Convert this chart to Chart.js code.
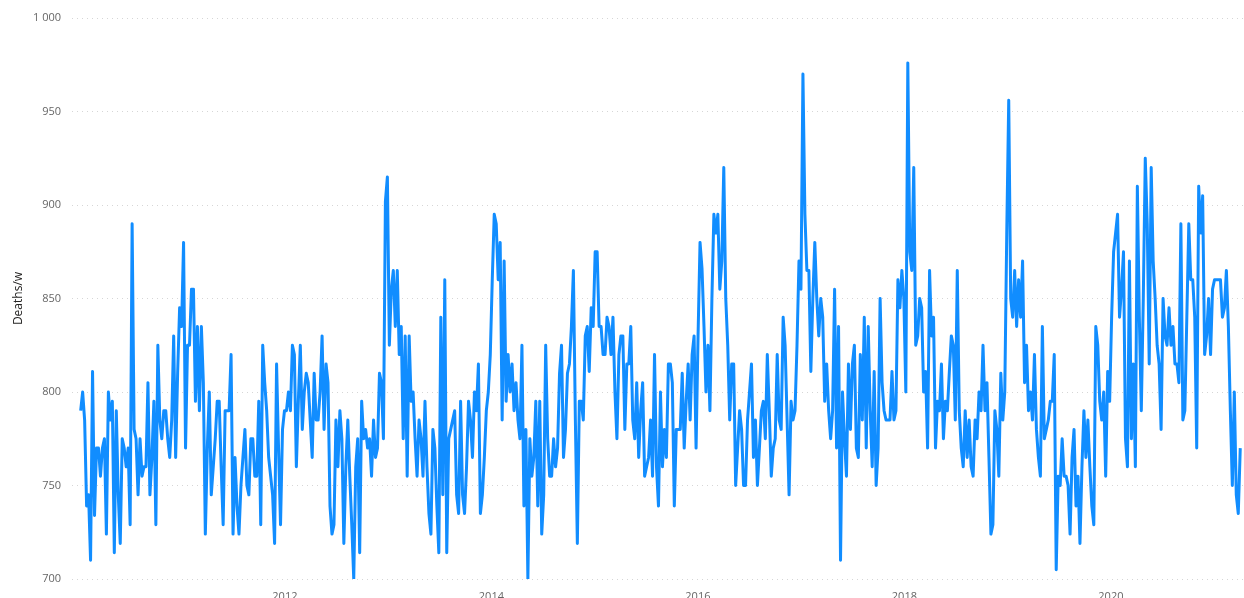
<!DOCTYPE html>
<html><head><meta charset="utf-8">
<script src="https://cdn.jsdelivr.net/npm/chart.js@4"></script>
<style>html,body{margin:0;padding:0;background:#fff}#wrap{width:1244px;height:598px;position:relative}</style>
</head><body><div id="wrap"><canvas id="c"></canvas></div>
<script>
// Weekly deaths, consecutive weeks starting at firstWeek (decimal year)
const firstWeek = 2010.022;
const weekStep = 7 / 365.25;

const deaths2010 = [790,800,785,739,745,710,811,734,770,770,755,770,775,724,800,785,795,714,790,745,719,775,770,760,770,729,890,780,775,745,775,755,760,760,805,745,765,795,729,825,785,775,790,790,775,765,785,830,765,810,845,835,880];
const deaths2011 = [770,825,825,855,855,795,835,790,835,805,724,770,800,745,760,775,795,795,760,729,790,790,790,820,724,765,739,724,750,765,780,750,745,775,775,755,755,795,729,825,805,790,765,755,745,719,815,770,729,780,790,790,800];
const deaths2012 = [790,825,820,760,795,825,780,800,810,805,785,765,810,785,785,800,830,780,815,805,739,724,729,785,760,790,775,719,760,785,755,729,700,760,775,714,795,775,780,770,775,755,785,765,770,810,805,775,902,915,825,855,865,835];
const deaths2013 = [865,820,835,775,830,755,830,795,800,775,755,785,775,755,795,760,735,724,780,770,739,714,840,745,860,714,775,780,785,790,745,735,795,745,735,760,795,785,765,800,790,815,735,745,765,790,800,820,860,895,890,860,880,785];
const deaths2014 = [870,795,820,800,815,790,805,785,775,825,739,780,700,775,755,765,795,739,795,724,745,825,775,755,755,775,760,770,810,825,765,780,810,815,835,865,785,719,795,795,785,830,835,811,845,835,875,875,835,835,820,820,840];
const deaths2015 = [835,820,840,800,775,820,830,830,780,815,815,835,785,775,805,765,790,805,755,760,765,785,755,820,760,739,800,760,780,765,815,815,805,739,780,780,780,810,770,795,815,785,820,830,770,830,880,866,835,800,825,790,850,895];
const deaths2016 = [885,895,855,870,920,850,825,785,815,815,750,770,790,780,750,750,785,800,815,765,785,750,770,790,795,775,820,790,755,770,775,820,785,780,840,825,785,745,795,785,790,825,870,855,970,895,865,865,811,850,880,850,830];
const deaths2017 = [850,840,795,815,790,775,790,855,770,835,710,800,775,755,815,780,815,825,770,765,820,785,840,770,835,790,760,811,750,770,850,805,790,785,785,785,811,785,790,860,845,865,850,800,976,875,865,920,825,830,850,845,800];
const deaths2018 = [811,770,865,830,840,770,795,790,815,775,795,790,811,830,825,785,865,790,770,760,790,765,785,760,755,785,775,800,790,825,790,805,765,724,729,790,780,755,810,785,800,885,956,850,840,865,835,860,840,870,805,825,790];
const deaths2019 = [800,785,820,780,765,755,835,775,780,785,795,795,820,705,755,750,775,755,755,750,724,765,780,739,755,719,760,790,765,785,760,739,729,835,825,795,785,800,755,811,795,840,875,885,895,840,855,875,775,760,870,775,815,760];
const deaths2020 = [910,840,790,850,925,890,815,920,870,850,825,815,780,850,830,825,845,825,835,815,815,805,890,785,790,840,890,860,860,840,770,910,885,905,820,830,850,820,855,860,860,860,860,840,845,865,835,790,750,800,745,735,770];

const yTicks = [700,750,800,850,900,950,1000];
const xTicks = [2012,2014,2016,2018,2020];

const values = [].concat(deaths2010,deaths2011,deaths2012,deaths2013,deaths2014,deaths2015,deaths2016,deaths2017,deaths2018,deaths2019,deaths2020);
const points = values.map((v,i)=>({x:firstWeek+i*weekStep,y:v}));

const fmt = v => String(v).replace(/\B(?=(\d{3})+(?!\d))/g,' ');
const tickFont = {family:'"Open Sans", "Noto Sans", sans-serif', size:11};

new Chart(document.getElementById('c'), {
  type:'line',
  data:{datasets:[{data:points,borderColor:'#118DFF',borderWidth:3,pointRadius:0,tension:0,fill:false,borderJoinStyle:'round'}]},
  options:{
    responsive:true,maintainAspectRatio:false,animation:false,
    layout:{padding:{top:18,left:0,right:0,bottom:0}},
    plugins:{legend:{display:false},tooltip:{enabled:false}},
    scales:{
      x:{type:'linear',min:2009.938,max:2021.289,
        afterBuildTicks:s=>{s.ticks=xTicks.map(v=>({value:v}));},
        grid:{display:false},border:{display:false},
        ticks:{color:'#666666',font:tickFont,padding:3,maxRotation:0,autoSkip:false,callback:v=>String(v)},
        afterFit:s=>{s.height=19;}
      },
      y:{min:700,max:1000,
        afterBuildTicks:s=>{s.ticks=yTicks.map(v=>({value:v}));},
        grid:{color:'#d6d6d6',lineWidth:1,drawTicks:false},
        border:{display:false,dash:[1,4]},
        ticks:{color:'#666666',font:tickFont,padding:11,callback:v=>fmt(v)},
        title:{display:true,text:'Deaths/w',color:'#252423',font:{family:'"Open Sans", "Noto Sans", sans-serif',size:12},padding:{top:11,bottom:0}},
        afterFit:s=>{s.width=72;}
      }
    }
  }
});
</script></body></html>
